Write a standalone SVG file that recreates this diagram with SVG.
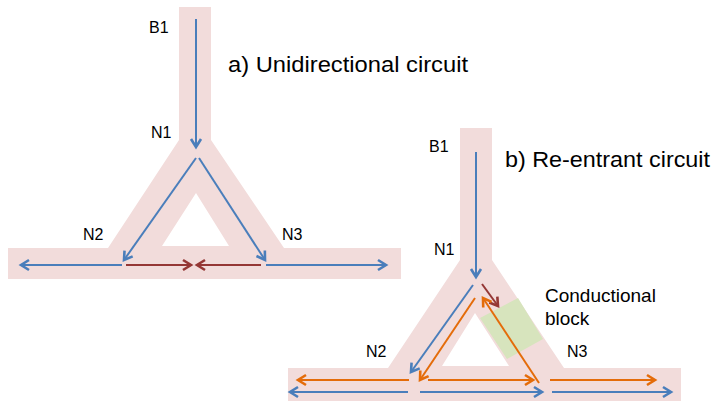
<svg xmlns="http://www.w3.org/2000/svg" width="714" height="403" viewBox="0 0 714 403">
<style>
.tissue{fill:#f2dcdb;fill-rule:evenodd;stroke:none}
.lbl{font-family:"Liberation Sans",Arial,sans-serif;font-size:16px;fill:#000}
.title{font-family:"Liberation Sans",Arial,sans-serif;font-size:22px;fill:#000}
.big{font-family:"Liberation Sans",Arial,sans-serif;font-size:19px;fill:#000}
.b{stroke:#4a7ebb;stroke-width:2;fill:none;marker-end:url(#mb)}
.r{stroke:#953735;stroke-width:2;fill:none;marker-end:url(#mr)}
.o{stroke:#e46c0a;stroke-width:2;fill:none;marker-end:url(#mo)}
</style>
<defs>
<marker id="mb" markerUnits="userSpaceOnUse" markerWidth="14" markerHeight="14" refX="12" refY="7" orient="auto" overflow="visible"><path d="M4,2 L12,7 L4,12" fill="none" stroke="#4a7ebb" stroke-width="2.6"/></marker>
<marker id="mr" markerUnits="userSpaceOnUse" markerWidth="14" markerHeight="14" refX="12" refY="7" orient="auto" overflow="visible"><path d="M4,2 L12,7 L4,12" fill="none" stroke="#953735" stroke-width="2.6"/></marker>
<marker id="mo" markerUnits="userSpaceOnUse" markerWidth="14" markerHeight="14" refX="12" refY="7" orient="auto" overflow="visible"><path d="M4,2 L12,7 L4,12" fill="none" stroke="#e46c0a" stroke-width="2.6"/></marker>
</defs>

<g id="circuit-a">
<path class="tissue" d="M179,7 H211 V140 L284,248 H401 V279 H8 V248 H108 L179,140 Z M196,193 L229,246 L162,246 Z"/>
</g>
<g id="circuit-b">
<path class="tissue" d="M460,128 H492 V260 L564,368 H681 V401 H288 V368 H388 L460,260 Z M475,313 L509,366 L442,366 Z"/>
<polygon id="conductional-block" points="480,318 518,298 543,339 507,359" fill="#d7e4bd"/>
</g>

<g id="labels">
<text class="lbl" x="149" y="33">B1</text>
<text class="title" x="228" y="72" textLength="240" lengthAdjust="spacingAndGlyphs">a) Unidirectional circuit</text>
<text class="lbl" x="151" y="138">N1</text>
<text class="lbl" x="83" y="240">N2</text>
<text class="lbl" x="282" y="240">N3</text>
<text class="lbl" x="429" y="152">B1</text>
<text class="title" x="505" y="167" textLength="205" lengthAdjust="spacingAndGlyphs">b) Re-entrant circuit</text>
<text class="lbl" x="434" y="255">N1</text>
<text class="lbl" x="366" y="357">N2</text>
<text class="lbl" x="567" y="357">N3</text>
<text class="big" x="545" y="302">Conductional</text>
<text class="big" x="545" y="325">block</text>
</g>

<g id="connectors">
<!-- a -->
<line class="b" x1="196" y1="19" x2="196" y2="147"/>
<line class="b" x1="196" y1="158" x2="124" y2="260"/>
<line class="b" x1="199" y1="158" x2="265" y2="260"/>
<line class="b" x1="122" y1="265" x2="21" y2="265"/>
<line class="r" x1="126" y1="265" x2="191" y2="265"/>
<line class="r" x1="261" y1="265" x2="197" y2="265"/>
<line class="b" x1="266" y1="265" x2="386" y2="265"/>
<!-- b -->
<line class="b" x1="476" y1="152" x2="476" y2="277"/>
<line class="r" x1="482" y1="284" x2="498" y2="306"/>
<line class="b" x1="473" y1="285" x2="411" y2="372"/>
<line class="o" x1="475" y1="298" x2="420" y2="380"/>
<line class="o" x1="539" y1="383" x2="483" y2="298"/>
<line class="o" x1="409" y1="380" x2="298" y2="380"/>
<line class="b" x1="408" y1="392" x2="290" y2="392"/>
<line class="o" x1="428" y1="380" x2="533" y2="380"/>
<line class="b" x1="420" y1="392" x2="542" y2="392"/>
<line class="o" x1="550" y1="380" x2="655" y2="380"/>
<line class="b" x1="552" y1="392" x2="671" y2="392"/>
</g>
</svg>
